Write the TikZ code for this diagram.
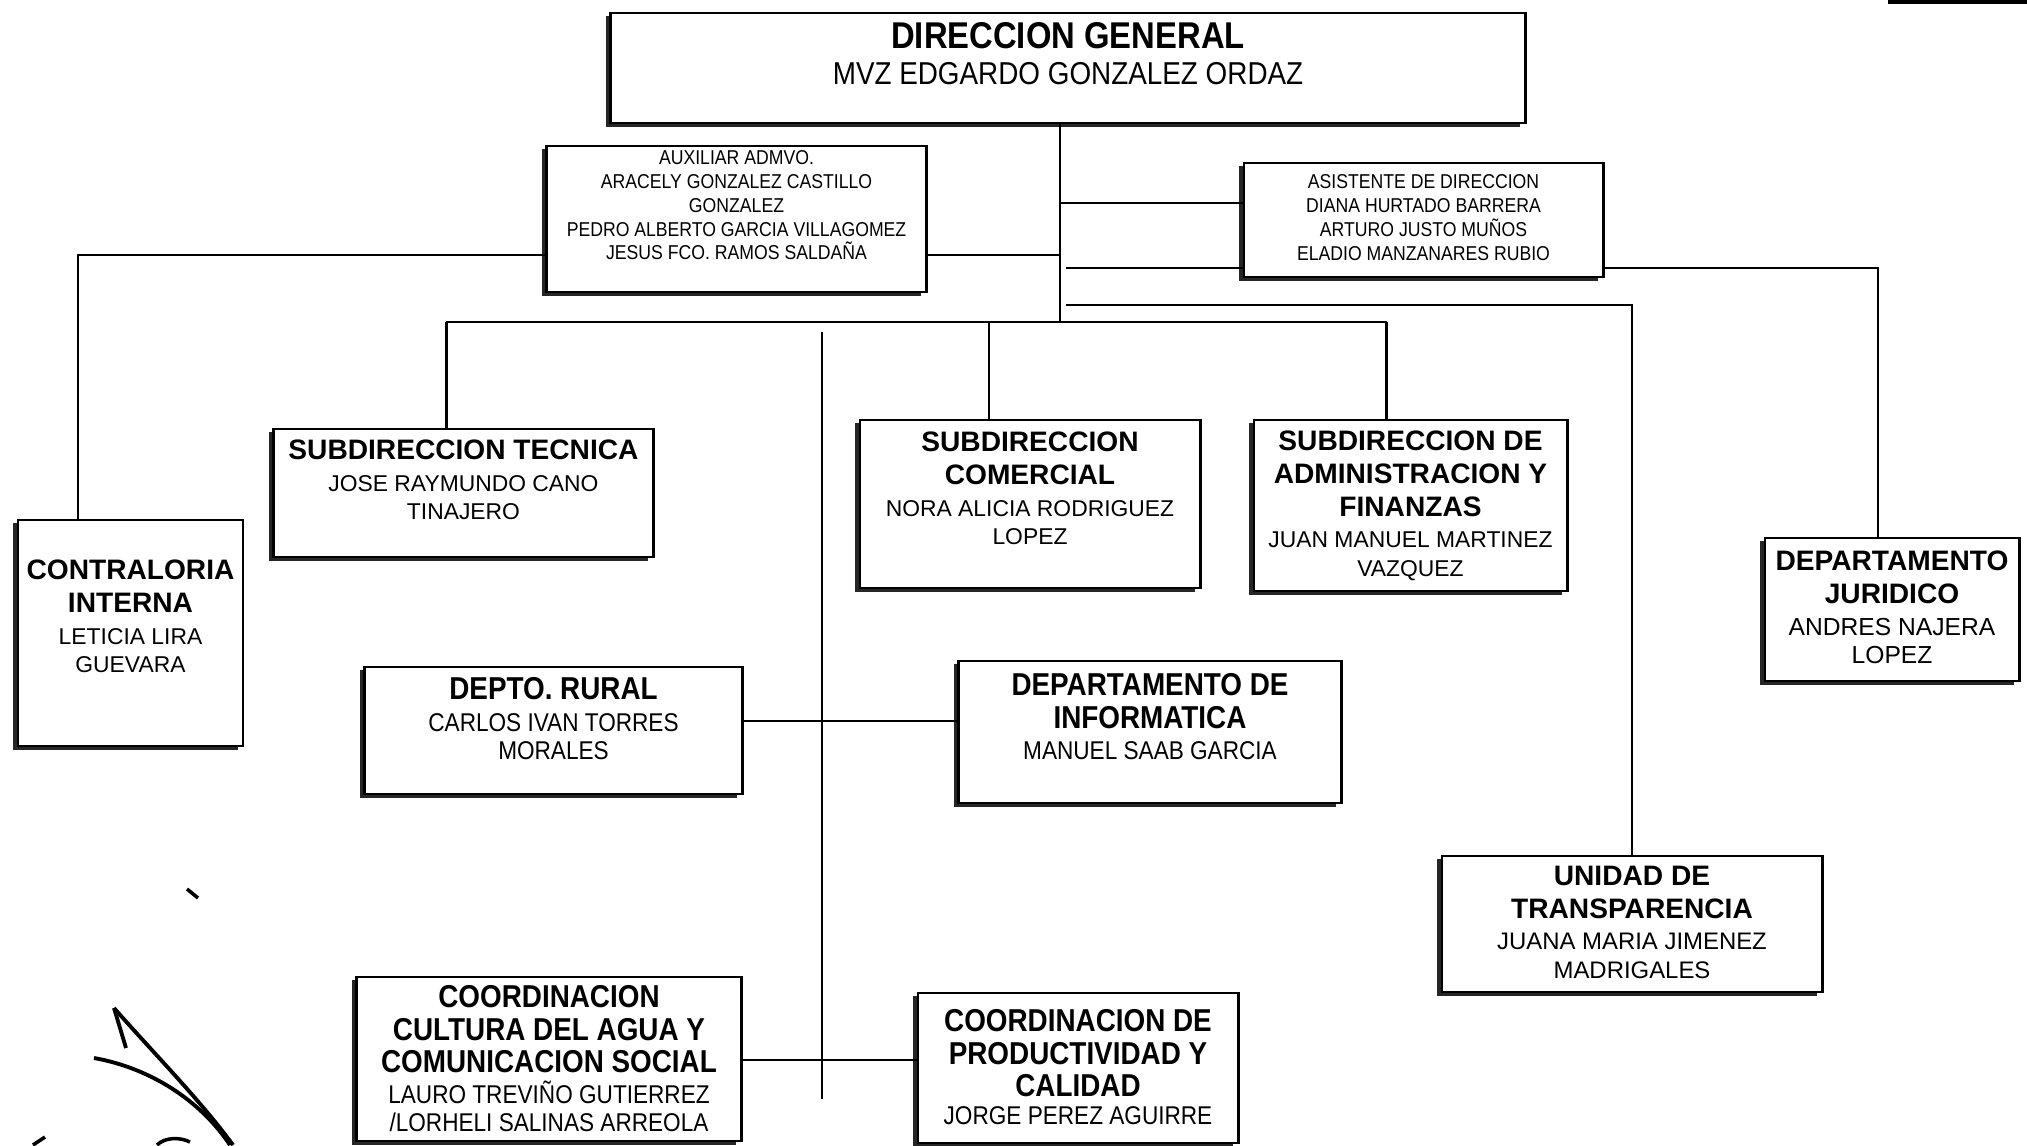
\documentclass[tikz,border=0pt]{standalone}
\usepackage{fontspec}
\setsansfont{Liberation Sans}
\newfontfamily\narrowsf[FakeStretch=0.88]{Liberation Sans}
\usetikzlibrary{shadows}
\newcommand{\headfont}{\sffamily\bfseries\fontsize{8}{9.4}\selectfont}
\newcommand{\namefont}{\sffamily\mdseries\fontsize{6.5}{8}\selectfont}
\newcommand{\narrowhead}{\narrowsf\bfseries\fontsize{9}{9.4}\selectfont}
\newcommand{\narrowname}{\narrowsf\mdseries\fontsize{7.3}{8}\selectfont}

\begin{document}
\begin{tikzpicture}[x=0.01cm, y=-0.01cm,
  unit/.style={draw, line width=0.8pt, fill=white, inner sep=0pt,
    drop shadow={shadow xshift=-0.05cm, shadow yshift=-0.035cm, fill=black!85, opacity=1}},
  caption/.style={anchor=north, align=center, inner sep=0pt},
  link/.style={line width=0.6pt}]
  \fill[white] (0,0) rectangle (2027,1145);
  \useasboundingbox (0,0) rectangle (2027,1145);

  % Direccion general and staff
  \node[unit, minimum width=9.14cm, minimum height=1.10cm] (dg) at (1068,68) {};
  \node[caption, font=\narrowsf\fontsize{9}{10.2}\selectfont] (dgtext) at ([yshift=-0.10cm]dg.north)
    {\bfseries\fontsize{10.6}{11}\selectfont DIRECCION GENERAL\\MVZ EDGARDO GONZALEZ ORDAZ};
  \node[unit, minimum width=3.79cm, minimum height=1.46cm] (aux) at (736.5,219) {};
  \node[caption, font=\narrowsf\fontsize{5.7}{6.8}\selectfont] (auxtext) at ([yshift=-0.05cm]aux.north)
    {AUXILIAR ADMVO.\\ARACELY GONZALEZ CASTILLO\\GONZALEZ\\PEDRO ALBERTO GARCIA VILLAGOMEZ\\JESUS FCO. RAMOS SALDAÑA};
  \node[unit, minimum width=3.59cm, minimum height=1.14cm] (asist) at (1423.5,220) {};
  \node[caption, font=\narrowsf\fontsize{5.7}{6.8}\selectfont] (asisttext) at ([yshift=-0.12cm]asist.north)
    {ASISTENTE DE DIRECCION\\DIANA HURTADO BARRERA\\ARTURO JUSTO MUÑOS\\ELADIO MANZANARES RUBIO};

  % Subdirecciones
  \node[unit, minimum width=2.25cm, minimum height=2.26cm] (contra) at (130.5,633) {};
  \node[caption, font=\namefont] (contratext) at ([yshift=-0.41cm]contra.north)
    {\headfont CONTRALORIA\\[1.3pt]\headfont INTERNA\\[1pt]LETICIA LIRA\\GUEVARA};
  \node[unit, minimum width=3.79cm, minimum height=1.28cm] (st) at (463.5,493) {};
  \node[caption, font=\namefont] (sttext) at ([yshift=-0.12cm]st.north)
    {\headfont SUBDIRECCION TECNICA\\[1pt]JOSE RAYMUNDO CANO\\TINAJERO};
  \node[unit, minimum width=3.40cm, minimum height=1.68cm] (com) at (1030,504) {};
  \node[caption, font=\namefont] (comtext) at ([yshift=-0.13cm]com.north)
    {\headfont SUBDIRECCION\\[1.3pt]\headfont COMERCIAL\\[1pt]NORA ALICIA RODRIGUEZ\\LOPEZ};
  \node[unit, minimum width=3.13cm, minimum height=1.71cm] (adm) at (1410.5,505.5) {};
  \node[caption, font=\namefont] (admtext) at ([yshift=-0.12cm]adm.north)
    {\headfont SUBDIRECCION DE\\[1.3pt]\headfont ADMINISTRACION Y\\[1.3pt]\headfont FINANZAS\\[1pt]JUAN MANUEL MARTINEZ\\VAZQUEZ};
  \node[unit, minimum width=2.54cm, minimum height=1.43cm] (jur) at (1892,609.5) {};
  \node[caption, font=\namefont\fontsize{7}{8}\selectfont] (jurtext) at ([yshift=-0.14cm]jur.north)
    {\headfont DEPARTAMENTO\\[1.3pt]\headfont JURIDICO\\[1pt]ANDRES NAJERA\\LOPEZ};
  \node[unit, minimum width=3.80cm, minimum height=1.36cm] (uni) at (1632,924) {};
  \node[caption, font=\namefont\fontsize{6.8}{8}\selectfont] (unitext) at ([yshift=-0.11cm]uni.north)
    {\headfont UNIDAD DE\\[1.3pt]\headfont TRANSPARENCIA\\[1pt]JUANA MARIA JIMENEZ\\MADRIGALES};

  % Departamentos y coordinaciones
  \node[unit, minimum width=3.77cm, minimum height=1.27cm] (rur) at (553.5,730.5) {};
  \node[caption, font=\narrowname] (rurtext) at ([yshift=-0.11cm]rur.north)
    {\narrowhead DEPTO. RURAL\\[1pt]CARLOS IVAN TORRES\\MORALES};
  \node[unit, minimum width=3.82cm, minimum height=1.42cm] (inf) at (1150,732) {};
  \node[caption, font=\narrowname] (inftext) at ([yshift=-0.13cm]inf.north)
    {\narrowhead DEPARTAMENTO DE\\[1.3pt]\narrowhead INFORMATICA\\[1pt]MANUEL SAAB GARCIA};
  \node[unit, minimum width=3.84cm, minimum height=1.64cm] (cul) at (549,1059) {};
  \node[caption, font=\narrowname] (cultext) at ([yshift=-0.09cm]cul.north)
    {\narrowhead COORDINACION\\[1.3pt]\narrowhead CULTURA DEL AGUA Y\\[1.3pt]\narrowhead COMUNICACION SOCIAL\\[0.6pt]LAURO TREVIÑO GUTIERREZ\\/LORHELI SALINAS ARREOLA};
  \node[unit, minimum width=3.20cm, minimum height=1.50cm] (pro) at (1078,1068) {};
  \node[caption, font=\narrowname] (protext) at ([yshift=-0.17cm]pro.north)
    {\narrowhead COORDINACION DE\\[1.3pt]\narrowhead PRODUCTIVIDAD Y\\[1.3pt]\narrowhead CALIDAD\\[-0.2pt]JORGE PEREZ AGUIRRE};

  % Lineas de mando
  \coordinate (bar) at (1060,322);
  \coordinate (stdrop) at ([xshift=-0.17cm]st.north);
  \coordinate (comdrop) at ([xshift=-0.41cm]com.north);
  \coordinate (admdrop) at ([xshift=-0.24cm]adm.north);
  \draw[link] (dg.south -| bar) -- (bar);
  \draw[link] (stdrop |- bar) -- (admdrop |- bar);
  \draw[link] (stdrop |- bar) -- (stdrop);
  \draw[link] (comdrop |- bar) -- (comdrop);
  \draw[link] (admdrop |- bar) -- (admdrop);

  \coordinate (auxjoin) at (1060,255);
  \coordinate (contradrop) at ([xshift=-0.525cm]contra.north);
  \draw[link] (aux.east |- auxjoin) -- (auxjoin);
  \draw[link] (aux.west |- auxjoin) -| (contradrop);

  \coordinate (asjoinA) at (1060,203);
  \coordinate (asjoinB) at (1066,268);
  \coordinate (jurdrop) at ([xshift=-0.14cm]jur.north);
  \draw[link] (asjoinA) -- (asjoinA -| asist.west);
  \draw[link] (asjoinB) -- (asjoinB -| asist.west);
  \draw[link] (asist.east |- asjoinB) -| (jurdrop);

  \coordinate (unijoin) at (1066,305);
  \draw[link] (unijoin) -| (uni.north);

  \coordinate (spinetop) at (822,332);
  \coordinate (spinebot) at (822,1099);
  \coordinate (rurlink) at (822,721);
  \coordinate (cullink) at (822,1060);
  \draw[link] (spinetop) -- (spinebot);
  \draw[link] (rurlink -| rur.east) -- (rurlink -| inf.west);
  \draw[link] (cullink -| cul.east) -- (cullink -| pro.west);

  % Firma
  \draw[line width=1.1pt] (114,1008) -- (126,1048);
  \draw[line width=1.1pt] (114,1008) .. controls (160,1060) and (200,1100) .. (233,1145);
  \draw[line width=1.1pt] (94,1058) .. controls (150,1068) and (200,1100) .. (230,1145);
  \draw[line width=1pt] (187,889) -- (198,898);
  \draw[line width=1pt] (33,1145) -- (45,1137);
  \draw[line width=1pt] (157,1145) .. controls (165,1137) and (180,1137) .. (190,1142);
  \draw[line width=1.5pt] (1888,1) -- (2027,1);
\end{tikzpicture}
\end{document}
